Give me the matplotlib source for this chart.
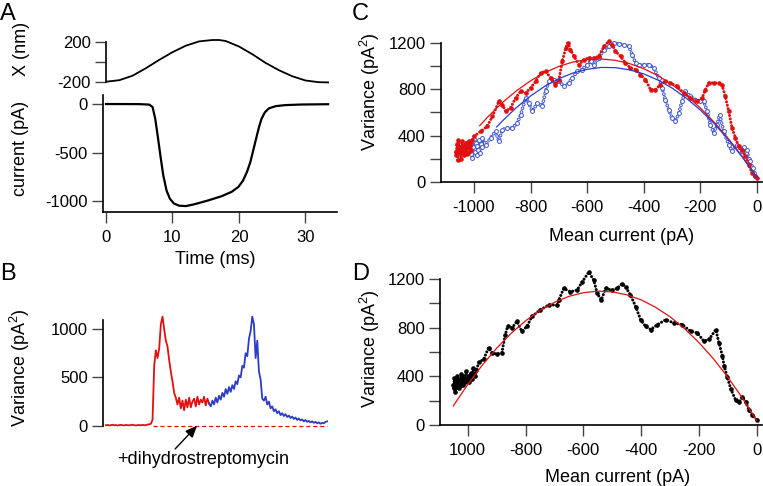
import matplotlib
matplotlib.use("Agg")
import matplotlib.pyplot as plt
import numpy as np

plt.rcParams['font.family'] = ['Liberation Sans', 'DejaVu Sans']
plt.rcParams['axes.unicode_minus'] = False
plt.rcParams['mathtext.fontset'] = 'custom'
plt.rcParams['mathtext.rm'] = 'Liberation Sans'
plt.rcParams['mathtext.it'] = 'Liberation Sans'
plt.rcParams['mathtext.default'] = 'regular'
plt.rcParams['lines.scale_dashes'] = False

RED = '#e01010'
BLUE = '#2b3cc8'
LBLUE = '#3d55d2'

# ---------------- Panel A data ----------------
pos_t = [0, 2, 4, 6, 8, 10, 12, 14, 16, 17, 18, 20, 22, 24, 26, 28, 30, 32, 33.4]
pos_nm = [-200, -185, -140, -65, 18, 95, 160, 203, 217, 217, 207, 152, 75, -12, -85, -145, -188, -205, -207]

cur_t = [0, 5, 6.5, 7.0, 7.4, 7.8, 8.2, 8.6, 9.1, 9.6, 10.2, 11, 12, 13, 14, 15.4, 17.4, 18.9,
         19.9, 20.6, 21.2, 21.7, 22.1, 22.6, 23.0, 23.4, 23.9, 24.5, 25.5, 27, 29.5, 33.4]
cur_pA = [0, -1, -6, -30, -150, -340, -540, -730, -890, -975, -1025, -1048, -1052, -1038, -1020,
          -993, -950, -905, -855, -790, -700, -600, -490, -350, -240, -150, -85, -45, -22, -11, -5, -2]

# ---------------- Panel B data ----------------
var_red_t0, var_dt = 0.0, 0.25
var_red = [5, 8, 3, 6, 10, 4, 7, 2, 6, 9, 5, 3, 8, 6, 4, 7, 10, 5, 3, 6, 8, 4, 9, 5, 7, 12, 15, 20,
           60, 620, 780, 700, 800, 1050, 1130, 1000, 880, 820, 680, 560, 460, 340, 290, 220, 290,
           180, 260, 160, 270, 190, 290, 190, 250, 280, 200, 300, 220, 270, 240, 300, 210, 280, 230]
var_blue_t0 = 15.5
var_blue = [230, 200, 260, 220, 290, 240, 310, 270, 340, 300, 380, 330, 400, 350, 420, 380, 460, 430,
            520, 500, 620, 600, 750, 720, 900, 980, 1130, 1050, 700, 880, 560, 480, 280, 260,
            300, 220, 250, 180, 200, 150, 170, 130, 150, 110, 130, 100, 120, 90, 105, 80,
            95, 70, 85, 60, 75, 55, 65, 45, 60, 40, 50, 35, 45, 30, 40, 25,
            35, 20, 30, 25, 40, 45]
dhs_t = [7.0, 33.3]
dhs_var = [0, 0]

# ---------------- Panel C data ----------------
c_red_x = [-1065, -1062, -1060, -1058, -1055, -1052, -1049, -1046, -1043, -1040, -1037, -1034, -1031,
           -1028, -1025, -1022, -1019, -1016, -1013, -1010, -1006,
           -1000, -976, -953, -935, -912, -900, -888, -871, -853, -835, -818, -800, -782, -765, -747,
           -729, -712, -700, -688, -676, -668, -659, -647, -629, -612, -594, -576, -559, -541, -524,
           -512, -500, -482, -465, -447, -429, -412, -394, -376, -359, -341, -324, -306, -282, -259,
           -235, -212, -194, -182, -171, -153, -135, -124, -112, -100, -88, -76, -65, -53, -41, -29,
           -18, -6, 0]
c_red_y = [260, 230, 330, 190, 360, 250, 300, 200, 350, 270, 230, 320, 260,
           340, 240, 300, 350, 260, 330, 280, 360,
           394, 437, 481, 567, 696, 668, 610, 639, 725, 783, 768, 812, 869, 941, 955,
           898, 840, 883, 1042, 1157, 1200, 1142, 1085, 1013, 1056, 1071, 1071, 1085, 1171, 1214,
           1186, 1128, 1085, 1027, 984, 970, 927, 883, 797, 797, 840, 869, 855, 826, 768,
           725, 696, 725, 797, 855, 855, 855, 840, 740, 610, 466, 380, 308, 279, 222, 150,
           78, 49, 35]
c_blue_x = [-1012, -1009, -1006, -1003, -1000, -997, -994, -991, -988, -985, -982, -979, -976, -973, -970,
            -959, -941, -924, -912, -900, -882, -865, -847, -835, -818, -806, -794, -776, -759, -747,
            -735, -718, -700, -682, -665, -653, -635, -618, -600, -588, -576, -559, -541, -524, -506,
            -488, -471, -453, -441, -429, -418, -400, -382, -365, -347, -335, -324, -312, -300, -288,
            -276, -265, -253, -235, -218, -200, -188, -176, -165, -153, -141, -132, -118, -100, -88,
            -71, -53, -45, -40, -35, -30, -25, -20, -15, -10, -6]
c_blue_y = [240, 330, 210, 300, 370, 260, 340, 230, 310, 280, 360, 250, 330, 300, 380,
            322, 380, 437, 351, 452, 466, 466, 509, 581, 725, 682, 610, 682, 653, 783,
            869, 883, 869, 826, 855, 898, 955, 970, 1013, 1042, 1013, 1071, 1142, 1171, 1200,
            1191, 1186, 1171, 1099, 1027, 1013, 1013, 1013, 984, 898, 812, 711, 624, 552, 524,
            596, 696, 783, 740, 711, 696, 696, 610, 495, 423, 495, 581, 437, 322, 265,
            322, 265, 300, 250, 280, 200, 180, 140, 120, 80, 49]
c_fit_red_x = [-980, -950, -900, -850, -800, -750, -700, -650, -600, -550, -500, -450, -400, -350,
               -300, -250, -200, -150, -100, -50, 0]
c_fit_red_y = [486, 565, 685, 787, 874, 944, 998, 1036, 1057, 1062, 1050, 1022, 978, 918,
               841, 748, 639, 513, 371, 213, 38]
c_fit_blue_x = [-920, -900, -850, -800, -750, -700, -650, -600, -550, -500, -450, -400, -350,
                -300, -250, -200, -150, -100, -50, 0]
c_fit_blue_y = [475, 526, 643, 743, 826, 892, 941, 973, 989, 987, 968, 933, 880,
                811, 724, 621, 501, 363, 209, 38]

# ---------------- Panel D data ----------------
d_x = [-1050, -1048, -1046, -1044, -1042, -1040, -1037, -1034, -1031, -1028, -1025, -1022, -1019,
       -1016, -1013, -1010, -1006, -1002, -998, -994, -990, -986, -982, -978, -974, -970,
       -962, -945, -928, -917, -899, -882, -870, -862, -847, -830, -813, -795, -778, -749, -720,
       -691, -685, -668, -645, -622, -604, -581, -564, -552, -538, -523, -500, -483, -466, -454,
       -437, -419, -402, -385, -367, -344, -315, -287, -258, -229, -206, -183, -165, -142, -131,
       -119, -113, -102, -90, -73, -61, -50, -38, -27, -15, 0]
d_y = [330, 300, 390, 270, 360, 310, 400, 340, 300, 380, 330, 420, 360,
       330, 400, 350, 440, 370, 400, 350, 430, 380, 470, 420, 400, 450,
       514, 540, 635, 595, 581, 595, 743, 811, 797, 851, 770, 811, 892, 946, 986,
       986, 1027, 1122, 1095, 1108, 1176, 1257, 1189, 1081, 1027, 1122, 1108, 1122, 1162, 1135,
       1068, 973, 865, 811, 784, 824, 865, 838, 824, 770, 757, 689, 703, 784, 676,
       568, 486, 392, 297, 203, 189, 230, 189, 122, 81, 41]
d_fit_x = [-1050, -1000, -950, -900, -850, -800, -750, -700, -650, -600, -550, -500, -450, -400,
           -350, -300, -250, -200, -150, -100, -50, 0]
d_fit_y = [157, 333, 491, 631, 753, 856, 941, 1008, 1057, 1087, 1100, 1094, 1070, 1028,
           967, 889, 792, 677, 544, 392, 223, 35]

# ---------------- figure ----------------
W, H = 763, 486
fig = plt.figure(figsize=(W / 100, H / 100), dpi=100)


def add_ax(l, r, t, b):
    return fig.add_axes([l / W, 1 - b / H, (r - l) / W, (b - t) / H])


def style(ax, left=True, bottom=True):
    for s in ['top', 'right']:
        ax.spines[s].set_visible(False)
    ax.spines['left'].set_visible(left)
    ax.spines['bottom'].set_visible(bottom)
    for s in ['left', 'bottom']:
        ax.spines[s].set_linewidth(1.2)
    ax.tick_params(direction='out', length=8, width=1, color='#444444',
                   labelsize=12, pad=3)
    ax.patch.set_visible(False)


AL = 13

# Panel A top
axX = add_ax(106, 337, 39, 84)
style(axX, bottom=False)
axX.plot(pos_t, pos_nm, color='black', lw=1.3)
axX.set_xlim(0, 34.74)
axX.set_ylim(-223, 227)
axX.spines['left'].set_bounds(-200, 200)
axX.set_yticks([-200, 0, 200])
axX.set_yticklabels(['-200', '', '200'])
axX.set_xticks([])

# Panel A bottom
axI = add_ax(103, 337, 95, 212)
style(axI)
axI.plot(cur_t, cur_pA, color='black', lw=1.6)
axI.set_xlim(-0.45, 34.74)
axI.set_ylim(-1113, 93)
axI.set_yticks([0, -500, -1000])
axI.set_yticklabels(['0', '-500', '-1000'])
axI.set_xticks([0, 10, 20, 30])
axI.tick_params(axis='x', pad=5)

fig.text(21 / W, 1 - 49 / H, 'X (nm)', rotation=90, ha='center', va='center', fontsize=AL)
fig.text(21 / W, 1 - 148 / H, 'current (pA)', rotation=90, ha='center', va='center', fontsize=AL)
fig.text(215 / W, 1 - 260 / H, 'Time (ms)', ha='center', va='center', fontsize=AL)

# Panel B
axB = add_ax(103, 337, 315, 432)
style(axB, bottom=False)
tr = [var_red_t0 + var_dt * i for i in range(len(var_red))]
tb = [var_blue_t0 + var_dt * i for i in range(len(var_blue))]
axB.plot(dhs_t, dhs_var, color=RED, lw=0.9, ls=(0, (3, 2)))
axB.plot(tr, var_red, color=RED, lw=1.3)
axB.plot(tb, var_blue, color=BLUE, lw=1.3)
axB.set_xlim(-0.45, 34.74)
axB.set_ylim(-65, 1146)
axB.spines['left'].set_bounds(0, 1090)
axB.set_yticks([0, 500, 1000])
axB.set_xticks([])
axB.annotate('', xy=(13.7, 0), xytext=(10.4, -240), annotation_clip=False,
             arrowprops=dict(arrowstyle='-|>,head_length=0.7,head_width=0.3',
                             color='black', lw=1.0, shrinkA=0, shrinkB=0))
fig.text(203 / W, 1 - 459 / H, '+dihydrostreptomycin', ha='center', va='center', fontsize=AL)
fig.text(20 / W, 1 - 368 / H, r'Variance (pA$^{2}$)', rotation=90, ha='center', va='center',
         fontsize=AL)

# Panel C
axC = add_ax(441, 762, 38, 182)
style(axC)
dot = (0, (0.01, 2.5))
ring = (0, (0.01, 2.8))
axC.plot(c_blue_x, c_blue_y, color=LBLUE, lw=2.7, ls=ring, dash_capstyle='round', zorder=2)
axC.plot(c_blue_x, c_blue_y, color='white', lw=1.3, ls=ring, dash_capstyle='round', zorder=2.1)
axC.plot(c_blue_x, c_blue_y, ls='none', marker='o', ms=2.8, mfc='white', mec=LBLUE, mew=0.7,
         zorder=2.2)
axC.plot(c_red_x, c_red_y, color=RED, lw=2.2, ls=dot, dash_capstyle='round', zorder=3)
axC.plot(c_red_x, c_red_y, ls='none', marker='o', ms=2.3, color=RED, zorder=3.1)
axC.plot(c_fit_red_x, c_fit_red_y, color=RED, lw=0.9, zorder=4)
axC.plot(c_fit_blue_x, c_fit_blue_y, color=BLUE, lw=0.9, zorder=4)
axC.set_xlim(-1116.6, 17.7)
axC.set_ylim(0, 1243)
axC.spines['left'].set_bounds(0, 1200)
axC.set_yticks([0, 200, 400, 600, 800, 1000, 1200])
axC.set_yticklabels(['0', '', '400', '', '800', '', '1200'])
axC.set_xticks([-1000, -800, -600, -400, -200, 0])
axC.set_xticklabels(['-1000', '-800', '-600', '-400', '-200', '0'])
axC.tick_params(axis='x', pad=5)
fig.text(622 / W, 1 - 236 / H, 'Mean current (pA)', ha='center', va='center', fontsize=AL)
fig.text(370 / W, 1 - 92 / H, r'Variance (pA$^{2}$)', rotation=90, ha='center', va='center',
         fontsize=AL)

# Panel D
axD = add_ax(440, 762, 268, 425)
style(axD)
axD.plot(d_x, d_y, color='black', lw=2.2, ls=dot, dash_capstyle='round', zorder=3)
axD.plot(d_x, d_y, ls='none', marker='o', ms=2.3, color='black', zorder=3.1)
axD.plot(d_fit_x, d_fit_y, color=RED, lw=0.9, zorder=4)
axD.set_xlim(-1096, 18)
axD.set_ylim(0, 1290)
axD.spines['left'].set_bounds(0, 1200)
axD.set_yticks([0, 200, 400, 600, 800, 1000, 1200])
axD.set_yticklabels(['0', '', '400', '', '800', '', '1200'])
axD.set_xticks([-1000, -800, -600, -400, -200, 0])
axD.set_xticklabels(['1000', '-800', '-600', '-400', '-200', '0'])
axD.tick_params(axis='x', pad=5)
fig.text(618 / W, 1 - 477 / H, 'Mean current (pA)', ha='center', va='center', fontsize=AL)
fig.text(370 / W, 1 - 349 / H, r'Variance (pA$^{2}$)', rotation=90, ha='center', va='center',
         fontsize=AL)

# Panel letters
for letter, x, y in [('A', 0, 20), ('B', 0, 280), ('C', 352, 20), ('D', 352, 280)]:
    fig.text(x / W, 1 - y / H, letter, ha='left', va='baseline', fontsize=17)

fig.savefig('out.png', dpi=100)
